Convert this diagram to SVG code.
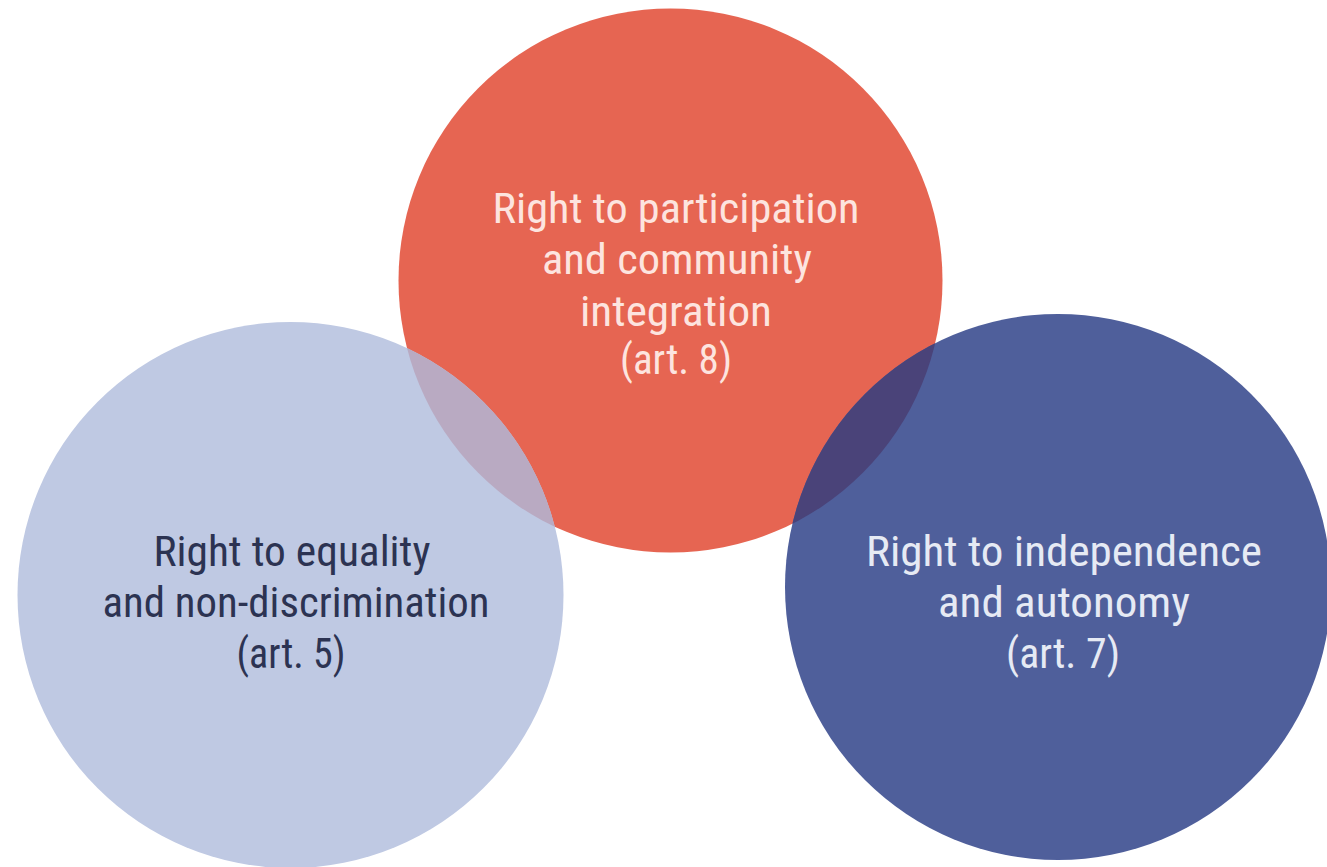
<svg xmlns="http://www.w3.org/2000/svg" width="1327" height="867" viewBox="0 0 1327 867">
<style>
.lbl{font-family:"Liberation Sans Narrow","Roboto Condensed","DejaVu Sans Condensed","Liberation Sans",sans-serif;font-stretch:condensed;font-size:42px;text-anchor:middle}
.red-t{fill:#fde4df}
.lb-t{fill:#2c3352}
.db-t{fill:#e6eaf4}
</style>
<defs>
<clipPath id="clipRed"><circle cx="670.5" cy="280.5" r="272"/></clipPath>
</defs>
<rect width="1327" height="867" fill="#ffffff"/>
<g id="node-participation">
<circle cx="670.5" cy="280.5" r="272" fill="#e66552"/>
<text class="lbl red-t" x="676" y="223" textLength="367" lengthAdjust="spacingAndGlyphs">Right to participation</text>
<text class="lbl red-t" x="677" y="274" textLength="270" lengthAdjust="spacingAndGlyphs">and community</text>
<text class="lbl red-t" x="676" y="326" textLength="192" lengthAdjust="spacingAndGlyphs">integration</text>
<text class="lbl red-t" x="676" y="374" textLength="112" lengthAdjust="spacingAndGlyphs">(art. 8)</text>
</g>
<g id="node-equality">
<circle cx="290.5" cy="595" r="273" fill="#bfc9e3"/>
<text class="lbl lb-t" x="292" y="566" textLength="277" lengthAdjust="spacingAndGlyphs">Right to equality</text>
<text class="lbl lb-t" x="296" y="617" textLength="387" lengthAdjust="spacingAndGlyphs">and non-discrimination</text>
<text class="lbl lb-t" x="291" y="668" textLength="109" lengthAdjust="spacingAndGlyphs">(art. 5)</text>
</g>
<g id="node-independence">
<circle cx="1058" cy="587" r="273" fill="#4f5f9b"/>
<text class="lbl db-t" x="1064" y="566" textLength="396" lengthAdjust="spacingAndGlyphs">Right to independence</text>
<text class="lbl db-t" x="1064" y="617" textLength="252" lengthAdjust="spacingAndGlyphs">and autonomy</text>
<text class="lbl db-t" x="1063" y="668" textLength="114" lengthAdjust="spacingAndGlyphs">(art. 7)</text>
</g>
<g id="overlaps">
<circle cx="290.5" cy="595" r="273" fill="#b9aac2" clip-path="url(#clipRed)"/>
<circle cx="1058" cy="587" r="273" fill="#4a4379" clip-path="url(#clipRed)"/>
</g>
</svg>
